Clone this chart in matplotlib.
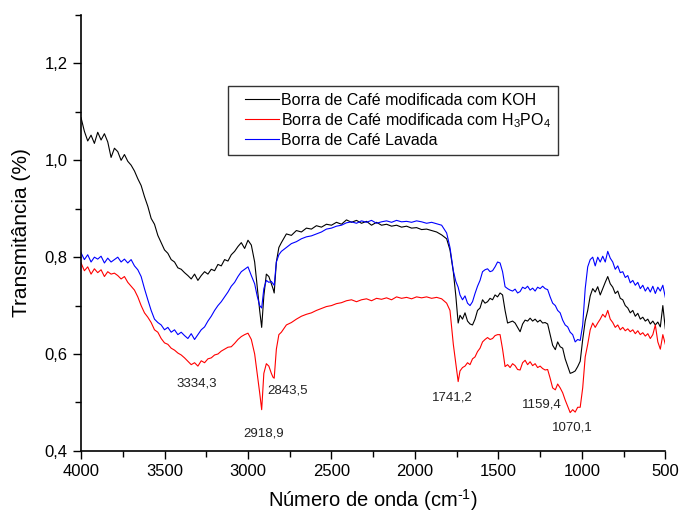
import numpy as np
import matplotlib
matplotlib.use("Agg")
import matplotlib.pyplot as plt
from matplotlib.ticker import MultipleLocator, FuncFormatter
from matplotlib.legend_handler import HandlerLine2D
from matplotlib.lines import Line2D

plt.rcParams["font.family"] = ["Liberation Sans", "DejaVu Sans"]
plt.rcParams["mathtext.fontset"] = "custom"
plt.rcParams["mathtext.rm"] = "Liberation Sans"
plt.rcParams["mathtext.it"] = "Liberation Sans:italic"
plt.rcParams["mathtext.bf"] = "Liberation Sans:bold"

# wavenumbers (cm-1)
wavenumber = [
    4000, 3980, 3960, 3940, 3920, 3900, 3880, 3860, 3840, 3820,
    3800, 3780, 3760, 3740, 3720, 3700, 3680, 3660, 3640, 3620,
    3600, 3580, 3560, 3540, 3520, 3500, 3480, 3460, 3440, 3420,
    3400, 3380, 3360, 3340, 3320, 3300, 3280, 3260, 3240, 3220,
    3200, 3180, 3160, 3140, 3120, 3100, 3080, 3060, 3040, 3020,
    3000, 2980, 2960, 2945, 2930, 2918, 2905, 2890, 2875, 2860,
    2850, 2843, 2830, 2815, 2800, 2770, 2740, 2710, 2680, 2650,
    2620, 2590, 2560, 2530, 2500, 2470, 2440, 2410, 2380, 2350,
    2320, 2290, 2260, 2230, 2200, 2170, 2140, 2110, 2080, 2050,
    2020, 1990, 1960, 1930, 1900, 1870, 1840, 1810, 1790, 1770,
    1755, 1741, 1730, 1715, 1700, 1685, 1670, 1655, 1640, 1625,
    1610, 1595, 1580, 1565, 1550, 1535, 1520, 1505, 1490, 1475,
    1460, 1445, 1430, 1415, 1400, 1385, 1370, 1355, 1340, 1325,
    1310, 1295, 1280, 1265, 1250, 1235, 1220, 1205, 1190, 1175,
    1159, 1145, 1130, 1115, 1100, 1085, 1070, 1055, 1040, 1025,
    1010, 995, 980, 965, 950, 935, 920, 905, 890, 875,
    860, 845, 830, 815, 800, 785, 770, 755, 740, 725,
    710, 695, 680, 665, 650, 635, 620, 605, 590, 575,
    560, 545, 530, 515, 500,
]

# Borra de Cafe modificada com KOH
koh = [
    1.088, 1.060, 1.040, 1.052, 1.035, 1.058, 1.042, 1.055, 1.038, 1.006,
    1.025, 1.018, 1.000, 1.012, 0.998, 0.990, 0.978, 0.962, 0.948, 0.925,
    0.905, 0.880, 0.868, 0.845, 0.830, 0.815, 0.808, 0.795, 0.790, 0.778,
    0.775, 0.768, 0.762, 0.755, 0.765, 0.752, 0.762, 0.770, 0.765, 0.775,
    0.772, 0.785, 0.782, 0.795, 0.792, 0.805, 0.812, 0.822, 0.830, 0.818,
    0.835, 0.825, 0.790, 0.740, 0.690, 0.655, 0.720, 0.765, 0.760, 0.745,
    0.735, 0.726, 0.790, 0.820, 0.830, 0.848, 0.845, 0.855, 0.852, 0.860,
    0.858, 0.865, 0.862, 0.868, 0.866, 0.872, 0.868, 0.877, 0.872, 0.876,
    0.870, 0.874, 0.866, 0.872, 0.866, 0.868, 0.864, 0.866, 0.862, 0.864,
    0.860, 0.861, 0.857, 0.858, 0.855, 0.852, 0.846, 0.838, 0.815, 0.770,
    0.720, 0.664, 0.680, 0.672, 0.685, 0.668, 0.662, 0.660, 0.672, 0.690,
    0.695, 0.712, 0.705, 0.708, 0.715, 0.712, 0.722, 0.718, 0.726, 0.722,
    0.690, 0.664, 0.666, 0.668, 0.664, 0.655, 0.646, 0.662, 0.670, 0.668,
    0.674, 0.668, 0.672, 0.666, 0.670, 0.664, 0.665, 0.662, 0.640, 0.618,
    0.609, 0.625, 0.615, 0.612, 0.590, 0.575, 0.560, 0.562, 0.565, 0.574,
    0.585, 0.630, 0.668, 0.690, 0.720, 0.735, 0.728, 0.739, 0.722, 0.735,
    0.748, 0.760, 0.745, 0.738, 0.725, 0.730, 0.715, 0.712, 0.700, 0.695,
    0.685, 0.690, 0.678, 0.684, 0.672, 0.676, 0.668, 0.672, 0.662, 0.668,
    0.660, 0.666, 0.656, 0.700, 0.652,
]

# Borra de Cafe modificada com H3PO4
h3po4 = [
    0.788, 0.772, 0.780, 0.765, 0.776, 0.768, 0.774, 0.760, 0.770, 0.765,
    0.767, 0.762, 0.755, 0.760, 0.748, 0.740, 0.732, 0.718, 0.700, 0.685,
    0.676, 0.665, 0.650, 0.645, 0.632, 0.623, 0.620, 0.612, 0.608, 0.602,
    0.598, 0.592, 0.585, 0.578, 0.582, 0.575, 0.586, 0.582, 0.590, 0.592,
    0.598, 0.600, 0.606, 0.610, 0.614, 0.615, 0.622, 0.630, 0.636, 0.640,
    0.643, 0.630, 0.600, 0.560, 0.520, 0.485, 0.560, 0.580, 0.575, 0.560,
    0.552, 0.550, 0.610, 0.640, 0.645, 0.660, 0.665, 0.672, 0.678, 0.682,
    0.685, 0.690, 0.694, 0.698, 0.700, 0.704, 0.706, 0.710, 0.712, 0.708,
    0.712, 0.714, 0.710, 0.715, 0.713, 0.716, 0.712, 0.718, 0.715, 0.717,
    0.714, 0.718, 0.716, 0.718, 0.715, 0.717, 0.714, 0.705, 0.690, 0.620,
    0.580, 0.543, 0.565, 0.572, 0.575, 0.582, 0.578, 0.590, 0.594, 0.605,
    0.612, 0.625, 0.630, 0.634, 0.630, 0.632, 0.638, 0.640, 0.640, 0.610,
    0.574, 0.578, 0.572, 0.580, 0.576, 0.568, 0.567, 0.582, 0.587, 0.578,
    0.584, 0.576, 0.580, 0.572, 0.575, 0.570, 0.567, 0.568, 0.550, 0.530,
    0.526, 0.538, 0.530, 0.520, 0.505, 0.492, 0.479, 0.485, 0.480, 0.490,
    0.490, 0.530, 0.594, 0.620, 0.650, 0.664, 0.655, 0.664, 0.672, 0.682,
    0.676, 0.690, 0.672, 0.665, 0.655, 0.660, 0.650, 0.655, 0.648, 0.652,
    0.646, 0.650, 0.642, 0.648, 0.640, 0.644, 0.637, 0.642, 0.632, 0.640,
    0.660, 0.625, 0.610, 0.640, 0.620,
]

# Borra de Cafe Lavada
lavada = [
    0.809, 0.795, 0.805, 0.790, 0.800, 0.796, 0.802, 0.788, 0.798, 0.790,
    0.795, 0.800, 0.790, 0.796, 0.788, 0.795, 0.782, 0.774, 0.760, 0.735,
    0.712, 0.690, 0.672, 0.665, 0.660, 0.650, 0.655, 0.645, 0.650, 0.640,
    0.645, 0.638, 0.632, 0.642, 0.630, 0.640, 0.650, 0.656, 0.668, 0.678,
    0.690, 0.700, 0.708, 0.718, 0.728, 0.740, 0.748, 0.760, 0.770, 0.775,
    0.780, 0.762, 0.745, 0.720, 0.700, 0.695, 0.735, 0.752, 0.748, 0.750,
    0.745, 0.742, 0.790, 0.805, 0.812, 0.820, 0.828, 0.832, 0.838, 0.842,
    0.844, 0.848, 0.852, 0.858, 0.860, 0.864, 0.866, 0.871, 0.873, 0.870,
    0.875, 0.872, 0.876, 0.870, 0.873, 0.875, 0.872, 0.876, 0.873, 0.874,
    0.872, 0.875, 0.873, 0.870, 0.872, 0.869, 0.866, 0.850, 0.820, 0.772,
    0.750, 0.738, 0.722, 0.712, 0.720, 0.705, 0.700, 0.708, 0.725, 0.740,
    0.752, 0.770, 0.774, 0.776, 0.770, 0.772, 0.780, 0.790, 0.788, 0.770,
    0.739, 0.735, 0.732, 0.730, 0.734, 0.726, 0.729, 0.738, 0.735, 0.740,
    0.732, 0.736, 0.730, 0.738, 0.735, 0.740, 0.735, 0.733, 0.718, 0.705,
    0.700, 0.690, 0.685, 0.670, 0.660, 0.656, 0.645, 0.640, 0.625, 0.630,
    0.628, 0.660, 0.735, 0.780, 0.795, 0.800, 0.782, 0.800, 0.790, 0.802,
    0.790, 0.812, 0.798, 0.790, 0.775, 0.782, 0.768, 0.770, 0.758, 0.762,
    0.747, 0.752, 0.742, 0.748, 0.735, 0.742, 0.730, 0.738, 0.728, 0.740,
    0.725, 0.738, 0.730, 0.742, 0.717,
]

labels = [
    "Borra de Café modificada com KOH",
    r"Borra de Café modificada com H$_3$PO$_4$",
    "Borra de Café Lavada",
]

# peak annotations: text, x, y
peak_text = ["3334,3", "2843,5", "2918,9", "1741,2", "1159,4", "1070,1"]
peak_x = [3305, 2765, 2909, 1777, 1237, 1057]
peak_y = [0.540, 0.524, 0.435, 0.510, 0.495, 0.448]


class ShortLineHandler(HandlerLine2D):
    # legend line starts a bit right of the handle box, like the original
    def create_artists(self, legend, orig_handle, xdescent, ydescent,
                       width, height, fontsize, trans):
        artists = super().create_artists(legend, orig_handle, xdescent, ydescent,
                                         width, height, fontsize, trans)
        for a in artists:
            if isinstance(a, Line2D):
                xd = np.asarray(a.get_xdata(), dtype=float)
                if len(xd) > 1:
                    x0, x1 = xd[0], xd[-1]
                    a.set_xdata(np.linspace(x0 + 0.22 * (x1 - x0), x1, len(xd)))
        return artists


def main():
    fig = plt.figure(figsize=(6.81, 5.20), dpi=100)
    ax = fig.add_axes([0.119, 0.133, 0.858, 0.838])

    ax.plot(wavenumber, koh, color="black", lw=0.8, label=labels[0])
    ax.plot(wavenumber, h3po4, color="red", lw=0.8, label=labels[1])
    ax.plot(wavenumber, lavada, color="blue", lw=0.8, label=labels[2])

    for t, x, y in zip(peak_text, peak_x, peak_y):
        ax.text(x, y, t, fontsize=9.5, ha="center", va="center", color="#222222")

    ax.set_xlim(4000, 500)
    ax.set_ylim(0.4, 1.3)
    ax.xaxis.set_major_locator(MultipleLocator(500))
    ax.xaxis.set_minor_locator(MultipleLocator(250))
    ax.yaxis.set_major_locator(MultipleLocator(0.2))
    ax.yaxis.set_minor_locator(MultipleLocator(0.1))
    ax.yaxis.set_major_formatter(FuncFormatter(lambda v, p: f"{v:.1f}".replace(".", ",")))
    ax.tick_params(which="major", direction="out", length=6, width=1, labelsize=12)
    ax.tick_params(which="minor", direction="out", length=4, width=1)
    ax.spines["top"].set_visible(False)
    ax.spines["right"].set_visible(False)
    ax.spines["left"].set_linewidth(1.2)
    ax.spines["bottom"].set_linewidth(1.2)

    ax.set_xlabel(r"Número de onda (cm$^{\text{-1}}$)", fontsize=14.5, labelpad=6)
    ax.set_ylabel("Transmitância (%)", fontsize=15, labelpad=10)

    leg = ax.legend(loc="upper left", bbox_to_anchor=(0.252, 0.838), fontsize=11.5,
                    frameon=True, fancybox=False, handlelength=2.75, handletextpad=0.1,
                    labelspacing=0.2, borderpad=0.45, borderaxespad=0,
                    handler_map={Line2D: ShortLineHandler()})
    leg.get_frame().set_edgecolor("black")
    leg.get_frame().set_linewidth(1.0)

    fig.savefig("out.png", dpi=100)


if __name__ == "__main__":
    main()
